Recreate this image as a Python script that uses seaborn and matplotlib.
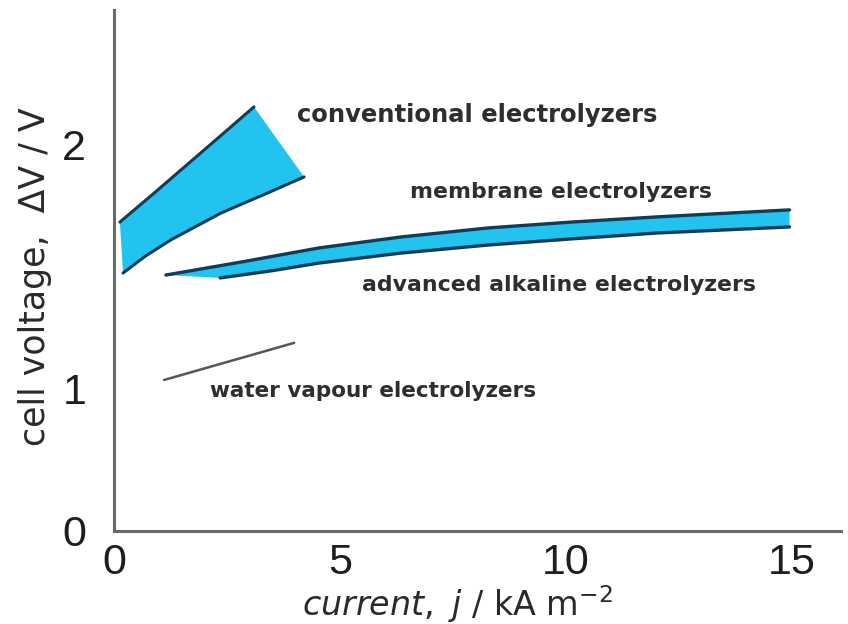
import numpy as np
import matplotlib
matplotlib.use("Agg")
import matplotlib.pyplot as plt
import seaborn as sns

# --- data (current density in kA m^-2, cell voltage in V) ---
conv_upper_j = [0.13, 0.89, 2.15, 3.10]
conv_upper_v = [1.684, 1.803, 2.004, 2.156]
conv_lower_j = [0.20, 0.70, 1.26, 2.37, 3.30, 4.21]
conv_lower_v = [1.475, 1.545, 1.611, 1.721, 1.795, 1.869]

memb_upper_j = [1.15, 2.81, 4.54, 6.36, 8.29, 10.13, 12.01, 14.96]
memb_upper_v = [1.467, 1.520, 1.578, 1.623, 1.660, 1.684, 1.705, 1.734]
alk_lower_j = [2.35, 3.48, 4.54, 6.36, 8.29, 10.13, 12.01, 14.96]
alk_lower_v = [1.455, 1.484, 1.516, 1.557, 1.590, 1.615, 1.639, 1.664]

vapour_j = [1.11, 3.99]
vapour_v = [1.037, 1.189]

labels = ["conventional electrolyzers", "membrane electrolyzers",
          "advanced alkaline electrolyzers", "water vapour electrolyzers"]
label_j = [8.04, 9.90, 9.86, 5.74]
label_v = [2.123, 1.807, 1.426, 0.986]
label_size = [17.5, 15.8, 15.8, 15.5]

x_ticks = [0, 5, 10, 15]
y_ticks = [0, 1, 2]

FILL = "#22C3EE"
EDGE = "#0F3C56"
AXIS = "#6a6a6a"

sns.set_theme(style="white")
plt.rcParams["font.family"] = ["DejaVu Sans"]
plt.rcParams["mathtext.fontset"] = "dejavusans"

fig = plt.figure(figsize=(8.48, 6.24), dpi=100)
ax = fig.add_axes([114 / 848, 1 - 531 / 624, 727 / 848, 521 / 624])

# schematic voltage axis: the 0-1 V span is compressed relative to 1-2 V
def fwd(v):
    v = np.asarray(v, dtype=float)
    return np.where(v <= 1, v * 142.0, 142.0 + (v - 1) * 244.0)

def inv(u):
    u = np.asarray(u, dtype=float)
    return np.where(u <= 142.0, u / 142.0, 1 + (u - 142.0) / 244.0)

ax.set_yscale("function", functions=(fwd, inv))

# conventional electrolyzers band
poly_j = conv_upper_j + conv_lower_j[::-1]
poly_v = conv_upper_v + conv_lower_v[::-1]
ax.fill(poly_j, poly_v, color=FILL, lw=0, zorder=2)
sns.lineplot(x=conv_upper_j, y=conv_upper_v, sort=False, color=EDGE, lw=2.2, ax=ax, zorder=3)
sns.lineplot(x=conv_lower_j, y=conv_lower_v, sort=False, color=EDGE, lw=2.2, ax=ax, zorder=3)

# membrane / advanced alkaline band
band_j = memb_upper_j + alk_lower_j[::-1]
band_v = memb_upper_v + alk_lower_v[::-1]
ax.fill(band_j, band_v, color=FILL, lw=0, zorder=2)
sns.lineplot(x=memb_upper_j, y=memb_upper_v, sort=False, color=EDGE, lw=2.4, ax=ax, zorder=3)
sns.lineplot(x=alk_lower_j, y=alk_lower_v, sort=False, color=EDGE, lw=2.4, ax=ax, zorder=3)

# water vapour electrolyzers
sns.lineplot(x=vapour_j, y=vapour_v, sort=False, color="#555555", lw=1.8, ax=ax, zorder=3)

for txt, xj, yv, fs in zip(labels, label_j, label_v, label_size):
    ax.text(xj, yv, txt, ha="center", va="center", fontsize=fs,
            fontweight="bold", color="#2e2e2e", zorder=4)

ax.set_xlim(0, 16.1)
ax.set_ylim(0, 2.553)
ax.set_xticks(x_ticks)
ax.set_yticks(y_ticks)
ax.minorticks_off()
ax.set_xticklabels([str(t) for t in x_ticks], family="Liberation Sans", fontsize=31, color="#1e1e1e")
ax.set_yticklabels([str(t) for t in y_ticks], family="Liberation Sans", fontsize=31, color="#1e1e1e")
ax.tick_params(axis="x", direction="in", length=4, width=1, color=AXIS, pad=9)
ax.tick_params(axis="y", direction="in", length=4, width=1, color=AXIS, pad=20)

for side in ["top", "right"]:
    ax.spines[side].set_visible(False)
for side in ["left", "bottom"]:
    ax.spines[side].set_color(AXIS)
    ax.spines[side].set_linewidth(2.2)

ax.set_xlabel(r"$\it{current,}$ $\it{j}$ / kA m$^{-2}$", fontsize=24, color="#2a2a2a", va="center")
ax.xaxis.set_label_coords(0.472, -0.14)
ax.set_ylabel("cell voltage,  \u0394V / V", fontsize=25, color="#2a2a2a", va="center")
ax.yaxis.set_label_coords(-0.109, 0.4875)

fig.savefig("out.png", dpi=100)
